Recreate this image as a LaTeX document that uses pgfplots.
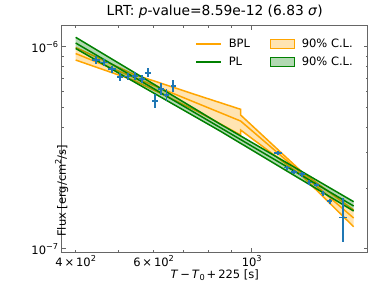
\documentclass[border=0pt]{standalone}
\usepackage{fontspec}
\setmainfont{DejaVu Sans}
\usepackage{pgfplots}
\pgfplotsset{compat=1.18}
\definecolor{mplorange}{HTML}{FFA500}
\definecolor{mplgreen}{HTML}{008000}
\definecolor{tabblue}{HTML}{1F77B4}
\newcommand\sups[1]{\raisebox{0.42em}{\fontsize{8.2}{8.2}\selectfont #1}}
\newcommand\subs[1]{\raisebox{-0.2em}{\fontsize{8.2}{8.2}\selectfont #1}}
\newcommand\fs{\fontsize{11.5}{13.5}\selectfont}
\begin{document}
\begin{tikzpicture}
\useasboundingbox (-61.7pt,-45.7pt) rectangle (312.3pt,252.3pt);
\begin{axis}[
  scale only axis, width=306pt, height=226.6pt,
  xmode=log, ymode=log,
  xmin=372, xmax=1829, ymin=9.6e-8, ymax=1.27e-6,
  axis line style={black!60, line width=1pt},
  tick style={black!60, line width=0.8pt},
  tick align=inside, xtick pos=both, ytick pos=both,
  xticklabel pos=lower, yticklabel pos=left,
  major tick length=4pt, minor tick length=2.2pt,
  xtick={1000}, xticklabels={10\sups{3}},
  minor xtick={400,500,600,700,800,900},
  extra x ticks={400,600},
  extra x tick labels={4\,×\,10\sups{2},6\,×\,10\sups{2}},
  extra x tick style={major tick length=2.2pt},
  ytick={1e-7,1e-6}, yticklabels={10\sups{−7},10\sups{−6}},
  minor ytick={2e-7,3e-7,4e-7,5e-7,6e-7,7e-7,8e-7,9e-7},
  tick label style={font=\fs},
  label style={font=\fs},
  xlabel={\textit{T}\,−\,\textit{T}\subs{0}\,+\,225 [s]},
  ylabel={Flux [erg/cm\sups{2}/s]},
  xlabel style={at={(axis description cs:0.5,0)}, yshift=-22.7pt, anchor=center},
  ylabel style={at={(axis description cs:0,0.5)}, xshift=-51.7pt, anchor=center},
  title={LRT: \textit{p}-value=8.59e-12 (6.83 \textit{σ})},
  title style={font=\fontsize{13.8}{16}\selectfont, yshift=-2pt},
  legend columns=2,
  legend cell align=left,
  legend style={draw=none, fill=none, font=\fs, at={(rel axis cs:0.4356,0.948)}, anchor=north west, inner sep=0pt,
    nodes={inner sep=1pt}, row sep=6pt,
    /tikz/every odd column/.append style={column sep=6pt},
    /tikz/every even column/.append style={column sep=19pt}},
]
\addlegendimage{legend image code/.code={\draw[mplorange, line width=1.6pt] (0pt,0pt) -- (25pt,0pt);}}
\addlegendentry{BPL}
\addlegendimage{legend image code/.code={\fill[mplorange, fill opacity=0.3] (0pt,-4.2pt) rectangle (24pt,4.2pt);
  \draw[mplorange, draw opacity=0.3, line width=0.8pt] (0pt,-4.2pt) rectangle (24pt,4.2pt);}}
\addlegendentry{90\% C.L.}
\addlegendimage{legend image code/.code={\draw[mplgreen, line width=1.6pt] (0pt,0pt) -- (25pt,0pt);}}
\addlegendentry{PL}
\addlegendimage{legend image code/.code={\fill[mplgreen, fill opacity=0.3] (0pt,-4.2pt) rectangle (24pt,4.2pt);
  \draw[mplgreen, draw opacity=0.3, line width=0.8pt] (0pt,-4.2pt) rectangle (24pt,4.2pt);}}
\addlegendentry{90\% C.L.}

% BPL band
\addplot[forget plot, draw=none, fill=mplorange, fill opacity=0.3] coordinates {
(400,9.91e-7)(540,7.315e-7)(750,5.771e-7)(944,4.898e-7)(944,4.59e-7)(1300,2.394e-7)(1700,1.554e-7)
(1700,1.285e-7)(1300,2.29e-7)(944,3.87e-7)(944,3.655e-7)(750,4.81e-7)(540,6.834e-7)(400,8.59e-7)} --cycle;
\addplot[forget plot, mplorange, line width=1.5pt] coordinates {
(400,9.91e-7)(540,7.315e-7)(750,5.771e-7)(944,4.898e-7)(944,4.59e-7)(1300,2.394e-7)(1700,1.554e-7)};
\addplot[forget plot, mplorange, line width=1.5pt] coordinates {
(400,9.25e-7)(944,4.286e-7)(1700,1.419e-7)};
\addplot[forget plot, mplorange, line width=1.5pt] coordinates {
(400,8.59e-7)(540,6.834e-7)(750,4.81e-7)(944,3.655e-7)(944,3.87e-7)(1300,2.29e-7)(1700,1.285e-7)};

% PL band
\addplot[forget plot, draw=none, fill=mplgreen, fill opacity=0.3] coordinates {
(400,1.113e-6)(850,4.133e-7)(1700,1.709e-7)(1700,1.537e-7)(850,3.816e-7)(400,9.80e-7)} --cycle;
\addplot[forget plot, mplgreen, line width=1.5pt] coordinates {(400,1.113e-6)(850,4.133e-7)(1700,1.709e-7)};
\addplot[forget plot, mplgreen, line width=1.5pt] coordinates {(400,1.043e-6)(850,3.972e-7)(1700,1.627e-7)};
\addplot[forget plot, mplgreen, line width=1.5pt] coordinates {(400,9.80e-7)(850,3.816e-7)(1700,1.537e-7)};

% data
\addplot[forget plot, draw=none, mark=none,
  error bars/.cd, x dir=both, x explicit, y dir=both, y explicit,
  error mark=none, error bar style={draw=tabblue, line width=1.7pt, solid}]
coordinates {
(444,8.59e-7) +- (9,0.37e-7)
(463.7,8.35e-7) +- (9,0.36e-7)
(483.3,7.74e-7) +- (9,0.33e-7)
(503.8,7.08e-7) +- (9,0.31e-7)
(524.4,7.13e-7) +- (9,0.31e-7)
(543.9,7.18e-7) +- (9,0.33e-7)
(564,6.93e-7) +- (9,0.33e-7)
(583.7,7.43e-7) +- (9,0.39e-7)
(604.5,5.40e-7) +- (9,0.43e-7)
(624.6,6.19e-7) +- (9,0.40e-7)
(641.8,5.77e-7) +- (9,0.39e-7)
(664.4,6.39e-7) +- (9,0.43e-7)
(1148,2.97e-7) +- (25,0.07e-7)
(1202,2.52e-7) +- (18,0.06e-7)
(1245,2.405e-7) +- (18,0.06e-7)
(1300,2.335e-7) +- (18,0.06e-7)
(1349,2.127e-7) +- (18,0.05e-7)
(1400,2.074e-7) +- (18,0.05e-7)
(1450,1.88e-7) +- (18,0.05e-7)
(1501,1.722e-7) +- (18,0.05e-7)
(1608,1.427e-7) +- (30,0.35e-7)
};
\end{axis}
\end{tikzpicture}
\end{document}
